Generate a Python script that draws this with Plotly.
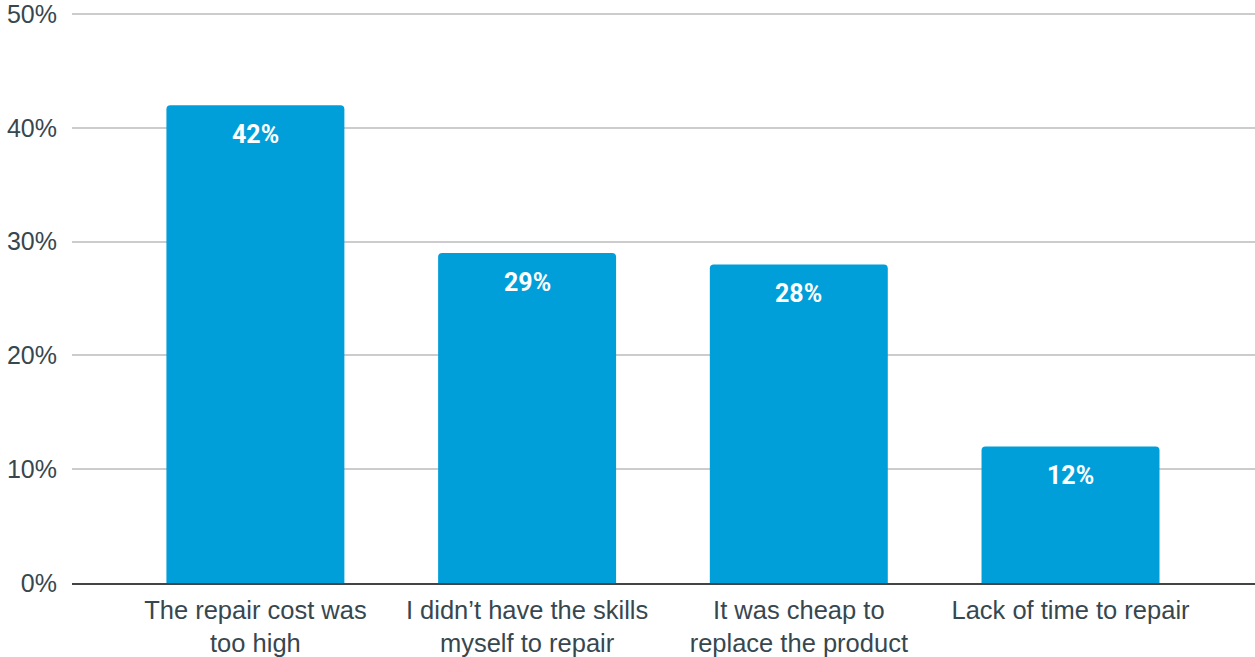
import plotly.graph_objects as go

categories = ["The repair cost was<br>too high", "I didn’t have the skills<br>myself to repair",
              "It was cheap to<br>replace the product", "Lack of time to repair"]
values = [42, 29, 28, 12]
labels = ["42%", "29%", "28%", "12%"]
ytick_vals = [0, 10, 20, 30, 40, 50]
ytick_text = ["0%", "10%", "20%", "30%", "40%", "50%"]

text_color = "#37474F"
fig = go.Figure()
fig.add_trace(go.Bar(x=categories, y=values, marker=dict(color="#009FDA", cornerradius=4, line=dict(width=0)),
                     width=0.655, hoverinfo="skip"))
for c, v, t in zip(categories, values, labels):
    fig.add_annotation(x=c, y=v, text="<b>" + t + "</b>", showarrow=False, yanchor="middle",
                       yshift=-29, font=dict(family="Roboto, Arial", size=25, color="white"))

fig.update_layout(
    width=1255, height=657, margin=dict(l=72, r=0, t=13, b=74),
    plot_bgcolor="white", paper_bgcolor="white", showlegend=False,
    font=dict(family="Liberation Sans, Arial", color=text_color),
)
fig.update_xaxes(range=[-0.675, 3.679], showgrid=False, tickfont=dict(size=25.5, color=text_color),
                 showline=True, linecolor="#444444", linewidth=2, ticklabelstandoff=3, automargin=False)
fig.update_yaxes(range=[0, 50.1], tickvals=ytick_vals, ticktext=ytick_text, showgrid=True,
                 gridcolor="#CCCCCC", gridwidth=2, zeroline=False, showline=False,
                 tickfont=dict(size=25, color=text_color), ticklabelstandoff=14, automargin=False,
                 ticklabeloverflow="allow")
fig.write_html("out.html", config={"displayModeBar": False},
               post_script="document.body.style.margin='0';document.body.style.overflow='hidden';")
